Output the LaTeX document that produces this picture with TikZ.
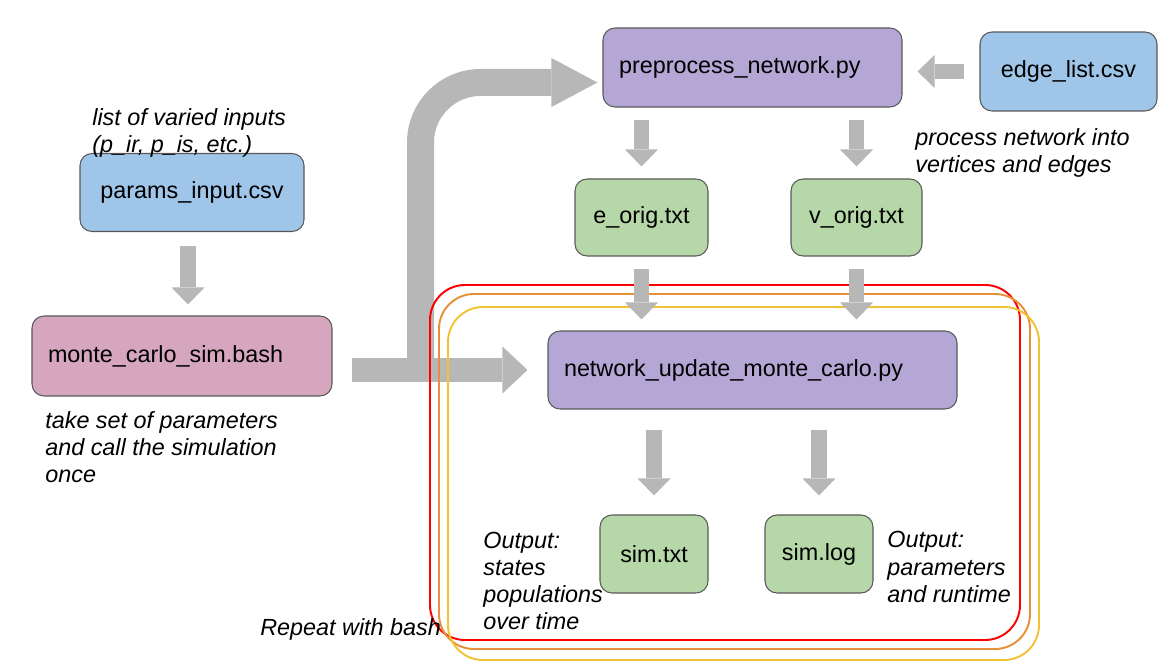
\documentclass[tikz,border=0pt]{standalone}
\usepackage{fontspec}
\setmainfont{Liberation Sans}
\usetikzlibrary{arrows.meta}

\definecolor{inputblue}{HTML}{9FC5E8}
\definecolor{bashpink}{HTML}{D5A6BD}
\definecolor{scriptpurple}{HTML}{B4A7D6}
\definecolor{filegreen}{HTML}{B6D7A8}
\definecolor{boxline}{HTML}{595959}
\definecolor{arrowgray}{HTML}{B7B7B7}
\definecolor{loopred}{HTML}{FF0000}
\definecolor{looporange}{HTML}{E69138}
\definecolor{loopyellow}{HTML}{F1C232}

\tikzset{
  filebox/.style={draw=boxline, line width=0.6pt, rounded corners=0.24cm, minimum height=1.56cm, inner sep=0pt},
  leftpad/.style={align=left, inner xsep=0.32cm},
  annot/.style={font=\fontsize{13.3}{15.4}\selectfont\itshape, align=left, inner sep=0pt, anchor=west},
  thinarrow/.style={draw=arrowgray, line width=0.31cm, -{Triangle[width=0.66cm,length=0.34cm,line width=0pt]}},
  widearrow/.style={draw=arrowgray, line width=0.48cm, -{Triangle[width=0.94cm,length=0.5cm,line width=0pt]}},
  bentarrow/.style={draw=arrowgray, line width=0.54cm, rounded corners=1.2cm, -{Triangle[width=0.98cm,length=0.92cm,line width=0pt]}},
  repeatline/.style={line width=1.1pt, rounded corners=0.7cm}
}

\begin{document}
\begin{tikzpicture}[font=\fontsize{13.3}{15.4}\selectfont]
\useasboundingbox (0,0) rectangle (23.44,13.36);

% inputs and scripts
\node[filebox, fill=inputblue, minimum width=4.48cm] (params) at (3.84,9.51) {params\_input.csv};
\node[filebox, leftpad, fill=bashpink, text width=5.36cm, minimum height=1.6cm] (monte) at (3.64,6.24) {monte\_carlo\_sim.bash};
\node[filebox, leftpad, fill=scriptpurple, text width=5.34cm, minimum height=1.58cm] (preprocess) at (15.05,12.01) {preprocess\_network.py};
\node[filebox, fill=inputblue, minimum width=3.54cm, minimum height=1.58cm] (edge) at (21.37,11.93) {edge\_list.csv};
\node[filebox, fill=filegreen, minimum width=2.66cm, minimum height=1.54cm] (eorig) at (12.83,9.01) {e\_orig.txt};
\node[filebox, fill=filegreen, minimum width=2.62cm, minimum height=1.54cm] (vorig) at (17.13,9.01) {v\_orig.txt};
\node[filebox, leftpad, fill=scriptpurple, text width=7.54cm] (network) at (15.05,5.96) {network\_update\_monte\_carlo.py};
\node[filebox, fill=filegreen, minimum width=2.16cm] (simtxt) at (13.08,2.28) {sim.txt};
\node[filebox, fill=filegreen, minimum width=2.16cm] (simlog) at (16.38,2.28) {sim.log};

% big arrows from the bash script
\coordinate (split) at (8.41,5.96);
\draw[widearrow] ([xshift=0.38cm]monte.east |- network.west) -- ([xshift=-0.4cm]network.west);
\draw[bentarrow] (split) |- ([xshift=-0.1cm,yshift=-0.3cm]preprocess.west);

% repeat loop
\draw[repeatline, loopred] (8.6,0.56) rectangle (20.4,7.66);
\draw[repeatline, looporange] (8.78,0.38) rectangle (20.6,7.48);
\draw[repeatline, loopyellow] (8.96,0.16) rectangle (20.78,7.22);

% small arrows
\draw[thinarrow] ([xshift=-0.08cm,yshift=-0.28cm]params.south) -- ([xshift=-0.08cm,yshift=0.22cm]params.south |- monte.north);
\draw[thinarrow] ([xshift=-0.3cm]edge.west) -- ([xshift=0.3cm]edge.west -| preprocess.east);
\draw[thinarrow] ([yshift=-0.24cm]preprocess.south -| eorig) -- ([yshift=0.24cm]eorig.north);
\draw[thinarrow] ([yshift=-0.24cm]preprocess.south -| vorig) -- ([yshift=0.24cm]vorig.north);
\draw[thinarrow] ([yshift=-0.24cm]eorig.south) -- ([yshift=0.22cm]eorig.south |- network.north);
\draw[thinarrow] ([yshift=-0.24cm]vorig.south) -- ([yshift=0.22cm]vorig.south |- network.north);
\draw[thinarrow] ([yshift=-0.4cm]network.south -| simtxt) -- ([yshift=0.38cm]simtxt.north);
\draw[thinarrow] ([yshift=-0.4cm]network.south -| simlog) -- ([yshift=0.38cm]simlog.north);

% notes
\node[annot] (inputsnote) at (1.84,10.71) {list of varied inputs\\(p\_ir, p\_is, etc.)};
\node[annot] (bashnote) at (0.9,4.42) {take set of parameters\\and call the simulation\\once};
\node[annot] (edgenote) at (18.3,10.3) {process network into\\vertices and edges};
\node[annot] (txtnote) at (9.66,1.74) {Output:\\states\\populations\\over time};
\node[annot] (lognote) at (17.74,2.02) {Output:\\parameters\\and runtime};
\node[annot] (repeatnote) at (5.2,0.78) {Repeat with bash};
\end{tikzpicture}
\end{document}
